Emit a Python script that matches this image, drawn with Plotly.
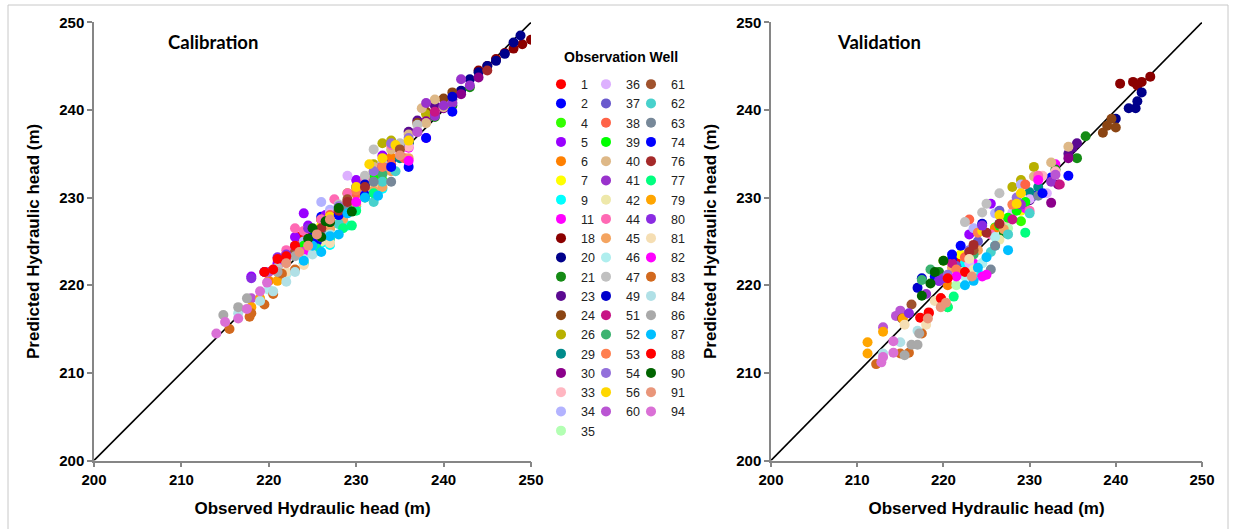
import plotly.graph_objects as go

W, H = 1233, 529

wells = [1, 2, 4, 5, 6, 7, 9, 11, 18, 20, 21, 23, 24, 26, 29, 30, 33, 34, 35,
         36, 37, 38, 39, 40, 41, 42, 44, 45, 46, 47, 49, 51, 52, 53, 54, 56, 60,
         61, 62, 63, 74, 76, 77, 79, 80, 81, 82, 83, 84, 86, 87, 88, 90, 91, 94]

colors = ["#FF0000", "#0000FF", "#33FF00", "#9900FF", "#FF8000", "#FFFF00", "#00FFFF",
          "#FF00FF", "#8B0000", "#00008B", "#158B15", "#5B0A91", "#8B4513", "#B8B000",
          "#008B8B", "#8B008B", "#FFB6C1", "#B3B3FF", "#B3FFB3",
          "#DDB0FF", "#6A5ACD", "#FF6347", "#00FF00", "#DEB887", "#9932CC", "#EEE8AA",
          "#FF69B4", "#F4A460", "#AFEEEE", "#C0C0C0", "#0000CD", "#C71585", "#3CB371",
          "#FF7F50", "#9370DB", "#FFD700", "#BA55D3",
          "#A0522D", "#48D1CC", "#778899", "#0000FF", "#A52A2A", "#00FF7F", "#FFA500",
          "#8A2BE2", "#F5DEB3", "#FF00FF", "#D2691E", "#B0E0E6", "#A9A9A9", "#00BFFF",
          "#FF0000", "#006400", "#E9967A", "#DA70D6"]

# Calibration: observed / predicted per well (same order as wells)
cal_obs = [
    [221, 222, 223, 224, 225, 226, 227, 223.5],
    [226, 228, 230, 232, 234, 236, 229],
    [227, 229, 231, 233],
    [218, 219.5, 221, 223, 224.5, 226.5, 230, 233, 224],
    [220, 224, 228, 231, 234],
    [222, 226, 229, 232, 235],
    [224, 226, 228, 230, 232, 229, 233, 227],
    [225, 229, 233, 236, 238],
    [244, 245, 246, 247, 248, 249, 250],
    [240, 242, 243, 244, 245, 246, 247, 248, 248.8],
    [236, 239, 241, 243],
    [236, 237, 239, 241],
    [237, 238, 240, 241],
    [226, 229, 232, 236, 238, 234, 233],
    [226, 229, 232, 235],
    [238, 240, 242, 244],
    [229, 231, 234, 236],
    [221, 224, 227, 231, 226],
    [222, 225, 228],
    [223, 227, 232, 235, 229],
    [231, 235, 239, 241],
    [227, 230, 232, 234, 235.5],
    [224, 228, 232],
    [232, 234, 236, 238, 240, 237.5, 239],
    [237, 239, 240, 241, 243, 238, 242],
    [226, 228, 232],
    [222, 224, 226, 229, 231, 233, 227.5, 234, 223],
    [227, 230, 232, 234, 228.5, 236, 233],
    [220, 222, 224, 226, 225.2],
    [221, 228, 231, 233, 235, 237, 232],
    [225, 228, 231, 241],
    [228, 233, 239],
    [225, 229, 233],
    [226, 230, 233],
    [228, 232, 236, 234],
    [227, 230, 233, 236, 231.5, 234.5],
    [218, 220, 222, 237],
    [223, 229, 235],
    [228, 231, 233, 234.5, 232],
    [226, 229, 232, 234],
    [228, 231, 234, 238, 241, 225.5, 236],
    [226, 227, 228, 229, 231, 245],
    [224, 225.5, 227, 228.5, 232, 230, 229.5],
    [218, 219, 221],
    [218, 219.5, 222, 223, 224.5, 221],
    [222, 224, 227],
    [224, 226, 230, 236],
    [215.5, 217.8, 218, 219.5, 220.5, 221.5, 223],
    [216.5, 219, 220.5, 222, 223, 224, 225, 227],
    [214.8, 216.5, 217.5, 221, 223],
    [224, 225, 227, 229, 231, 228, 232.5, 226],
    [219.5, 220.5, 221, 222, 223],
    [224.5, 226, 227, 228, 229.5, 226.5, 225],
    [222, 223.5, 224.5, 225.5, 227, 235],
    [214, 215, 216.5, 217.5, 219, 219.8],
]
cal_pred = [
    [222.2, 223.5, 224, 225.3, 226, 227.5, 228.2, 225.5],
    [227.8, 228.5, 231.2, 232.5, 234.3, 236.2, 228.8],
    [226.5, 228.4, 230, 232],
    [221, 221.5, 222.5, 225.5, 226.8, 228, 232, 234.8, 228.2],
    [220.5, 224.8, 228.2, 231, 234.6],
    [222.8, 226.8, 229.3, 233, 235.4],
    [223.5, 224.8, 227, 229, 230.5, 226.8, 231, 224.6],
    [225.2, 229.5, 232.8, 235.7, 236.8],
    [244.5, 245, 245.8, 246.5, 247, 247.5, 248],
    [240.4, 242.2, 243.5, 244.3, 245, 245.6, 246.4, 247.7, 248.5],
    [236.3, 239.2, 240.5, 242.6],
    [237.5, 238.8, 240.5, 241.2],
    [238.5, 239.8, 241.3, 242],
    [227.5, 230.5, 233.8, 236.5, 239.5, 236.5, 236.2],
    [226.2, 229, 231.8, 234.5],
    [238.7, 240.2, 241.8, 243.7],
    [229.2, 230.8, 233.5, 235.8],
    [222, 225, 228.6, 231.7, 229.5],
    [223.2, 226.4, 229],
    [223.6, 228.2, 232, 235.2, 232.5],
    [232, 236, 239.5, 240.8],
    [228, 230.4, 232.3, 233.8, 234.5],
    [224.5, 228.6, 232.2],
    [233.5, 235.5, 237.2, 238.5, 240.3, 240.2, 241.2],
    [237.5, 239.3, 240.5, 240.8, 242.8, 240.8, 243.5],
    [225, 227.2, 231.5],
    [224, 226.2, 227.5, 230.5, 232.2, 233.8, 229.8, 236, 226.5],
    [226.5, 229.2, 230.8, 233, 227.5, 234.5, 231.2],
    [219.5, 221.2, 223.5, 225.5, 223.8],
    [222, 229.2, 232.5, 234, 236.2, 238.3, 235.5],
    [225.5, 228.3, 231.5, 241.5],
    [228.5, 233.5, 239.8],
    [224.5, 228.8, 232.7],
    [226.5, 230.8, 233.5],
    [229, 233, 236.8, 236.2],
    [227.8, 231.2, 234.5, 236.5, 233.8, 236],
    [218.5, 221.5, 223, 237.5],
    [223.8, 229.8, 235.5],
    [227, 230, 231.8, 233, 229.5],
    [225.8, 228.5, 231.8, 231.8],
    [228, 230.3, 233.5, 236.8, 239.8, 225, 233.5],
    [226.5, 227.2, 228.5, 229.5, 231.2, 244.5],
    [222.5, 224.2, 225.3, 226.5, 230.5, 228.5, 226.8],
    [217.5, 218.5, 220.5],
    [220.8, 221.5, 223.5, 224.5, 226.5, 223.2],
    [221.5, 222.3, 224.8],
    [223.8, 225.5, 229.5, 234.2],
    [215, 216.4, 216.8, 217.8, 219, 221.3, 221.8],
    [216.8, 218.2, 219.3, 220.4, 221.5, 223, 223.5, 225.8],
    [216.6, 217.5, 218.5, 221.5, 223.3],
    [222.8, 224.5, 225.6, 228.2, 230, 225.8, 230.2, 223.8],
    [221.5, 221.8, 223, 223.3, 224.5],
    [225.3, 225.5, 227.2, 228.8, 228.4, 227.3, 226.5],
    [222.5, 223.8, 224.5, 225.8, 227.5, 234.8],
    [214.5, 215.8, 216.2, 217.3, 219.3, 220.3],
]

# Validation: observed / predicted per well
val_obs = [
    [217.3, 218.3, 219.7, 220.3, 222],
    [219, 221, 223.5, 230.5, 232.5],
    [220.5, 226, 229],
    [219.5, 223, 225.5],
    [220.5, 222.5, 226],
    [220, 222, 229],
    [222.5, 224, 226],
    [223.5, 229.5, 233],
    [240.5, 242, 242.5, 243, 244],
    [240, 241.5, 242.3, 242.5, 243],
    [219.5, 227, 233, 235.5, 236.5],
    [230, 234.5, 235, 235.5],
    [238.5, 239, 239.5, 240],
    [228, 229, 230.5],
    [226.5, 230, 231],
    [232.5, 234.5, 233.3],
    [227, 231.5, 233],
    [223.5, 226, 229],
    [221.5, 224.5, 227.5],
    [223, 228, 230, 232],
    [221.5, 224, 226.5],
    [222.5, 223, 229.5],
    [226.5, 227.5, 228.5, 229.5],
    [230.5, 232.5, 234.5],
    [218, 220, 229, 232.5],
    [222, 223.5, 226.5],
    [225.5, 230, 231],
    [221, 224, 227],
    [222.5, 224.5, 226],
    [224.5, 225, 226.5, 222.5],
    [217, 217.5, 224.5],
    [221, 228, 233.5],
    [217.5, 218.5, 223.5],
    [221.5, 224, 228],
    [220.5, 223, 228.5],
    [224.5, 226.5, 228.5, 229],
    [213, 214.5, 215, 233],
    [215.2, 216.3, 223.5],
    [225.5, 227.5, 230],
    [225.5, 226, 231],
    [221, 222, 231.5, 234.5],
    [223, 223.5, 225, 226.5],
    [220.5, 221.2, 229.5],
    [211.2, 211.2, 213, 215.3],
    [216, 219.5, 224.5],
    [215.5, 218, 219, 223],
    [221.5, 224.5, 225, 231],
    [212.2, 215, 216, 217.5],
    [213, 215, 217],
    [215.5, 216.3, 217, 217.2],
    [222.5, 223.5, 224, 225, 227.5],
    [218.3, 219.7, 220.5, 222.5],
    [217.5, 218.5, 219, 220],
    [218.2, 219.7, 220.3, 223.3],
    [212.8, 213, 214.2, 214.2],
]
val_pred = [
    [216.3, 216.9, 218.5, 220.8, 223],
    [221, 223, 224.2, 230.2, 232.3],
    [217.5, 226.6, 227.3],
    [220.5, 225.8, 229.3],
    [220, 222.8, 226.5],
    [222.8, 223.5, 228.5],
    [222.5, 221.5, 224.5],
    [222.5, 228.8, 233.8],
    [243, 243.2, 242.8, 243.2, 243.8],
    [239, 240.2, 240.2, 241, 242],
    [221.5, 226, 233.2, 234.5, 237],
    [229.7, 235, 235.7, 236.2],
    [237.4, 238.2, 239, 238],
    [231.2, 232, 233.5],
    [227, 230.6, 231.2],
    [229.4, 234.5, 231.5],
    [227.2, 232.5, 233],
    [226.5, 228.2, 231.5],
    [220, 222.5, 226.5],
    [222.5, 228.3, 229.8, 230.5],
    [222.2, 225, 228.5],
    [223.2, 227.5, 231.5],
    [226.8, 227.7, 228.5, 229.5],
    [232.4, 234, 235.8],
    [219, 220.8, 229.2, 231.8],
    [221.5, 221.8, 225.2],
    [225.8, 228.5, 232.5],
    [222, 224, 226.4],
    [221, 222.5, 225.5],
    [228.3, 229.3, 230.5, 227.2],
    [219.7, 220.8, 227],
    [222.5, 227.5, 231.5],
    [220.6, 221.8, 223.5],
    [221.8, 226, 229.2],
    [221.2, 224, 230],
    [226.2, 228, 229.3, 230.5],
    [215.2, 216.5, 217.1, 232.6],
    [216.2, 217.8, 224],
    [223.8, 225.8, 228.2],
    [221.8, 224.5, 230.2],
    [223.5, 224.5, 230.5, 232.5],
    [223.8, 224.6, 226, 227],
    [217.5, 218.7, 226],
    [213.5, 212.2, 214.7, 216.2],
    [216.8, 220.5, 226.8],
    [215.5, 215.5, 218.2, 223],
    [221, 221, 221.2, 232],
    [211, 212.2, 212.3, 214.5],
    [212.2, 213.5, 214.8],
    [212, 213.2, 213.2, 214.5],
    [220, 220.5, 222, 223.2, 224],
    [216.8, 218.5, 220.8, 221.5],
    [218.8, 220.2, 221.5, 222.8],
    [216.2, 217.5, 218, 221],
    [211.2, 211.8, 212.3, 213.6],
]

one_to_one = [200, 250]
tick_vals = [200, 210, 220, 230, 240, 250]

FONT = "Liberation Sans, Arial, sans-serif"
fig = go.Figure()

# 1:1 lines (drawn first, below points)
for xa, ya in (("x", "y"), ("x2", "y2")):
    fig.add_trace(go.Scatter(x=one_to_one, y=one_to_one, mode="lines",
                             line=dict(color="black", width=1.6), showlegend=False,
                             hoverinfo="skip", xaxis=xa, yaxis=ya))

MS = 10
for i, w in enumerate(wells):
    leg = "legend" if i < 19 else ("legend2" if i < 37 else "legend3")
    fig.add_trace(go.Scatter(x=cal_obs[i], y=cal_pred[i], mode="markers", name=str(w),
                             marker=dict(color=colors[i], size=MS, line=dict(width=0)),
                             legendgroup=str(w), legend=leg, xaxis="x", yaxis="y"))
for i, w in enumerate(wells):
    fig.add_trace(go.Scatter(x=val_obs[i], y=val_pred[i], mode="markers", name=str(w),
                             marker=dict(color=colors[i], size=MS, line=dict(width=0)),
                             legendgroup=str(w), showlegend=False, xaxis="x2", yaxis="y2"))

ydom = [(H - 460.5) / H, (H - 22.3) / H]
axis_common = dict(range=[200, 250], tickvals=tick_vals, showgrid=False, zeroline=False,
                   showline=True, linecolor="#868686", linewidth=1.5, ticks="outside",
                   ticklen=5, tickcolor="#868686", tickwidth=1.5, automargin=False,
                   tickfont=dict(family=FONT, size=15, color="black", weight="bold"))
xtitle = dict(text="Observed Hydraulic head (m)", standoff=15,
              font=dict(family=FONT, size=17, color="black", weight="bold"))
ytitle = dict(text="Predicted Hydraulic head (m)", standoff=15,
              font=dict(family=FONT, size=17, color="black", weight="bold"))

leg_common = dict(font=dict(family=FONT, size=12.5, color="#222222"),
                  bgcolor="rgba(0,0,0,0)", yanchor="top", xanchor="left",
                  itemclick=False, itemdoubleclick=False, tracegroupgap=0,
                  y=1 - 69.5 / H)

fig.update_layout(
    template="none",
    width=W, height=H, margin=dict(l=0, r=0, t=0, b=0, autoexpand=False),
    paper_bgcolor="white", plot_bgcolor="white",
    xaxis=dict(domain=[94 / W, 531 / W], anchor="y", title=xtitle, **axis_common),
    yaxis=dict(domain=ydom, anchor="x", title=ytitle, **axis_common),
    xaxis2=dict(domain=[771 / W, 1202 / W], anchor="y2", title=xtitle, **axis_common),
    yaxis2=dict(domain=ydom, anchor="x2", title=ytitle, **axis_common),
    legend=dict(x=541 / W, **leg_common),
    legend2=dict(x=586 / W, **leg_common),
    legend3=dict(x=631 / W, **leg_common),
    showlegend=True,
    annotations=[
        dict(text="Calibration", x=166 / W, y=1 - 42 / H, xref="paper", yref="paper",
             xanchor="left", yanchor="middle", showarrow=False,
             font=dict(family="Lato, Open Sans, sans-serif", size=18.5, color="black", weight="bold")),
        dict(text="Validation", x=835 / W, y=1 - 42 / H, xref="paper", yref="paper",
             xanchor="left", yanchor="middle", showarrow=False,
             font=dict(family="Lato, Open Sans, sans-serif", size=18.5, color="black", weight="bold")),
        dict(text="Observation Well", x=620.5 / W, y=1 - 56.5 / H, xref="paper", yref="paper",
             xanchor="center", yanchor="middle", showarrow=False,
             font=dict(family=FONT, size=14, color="black", weight="bold")),
    ],
    shapes=[dict(type="rect", xref="paper", yref="paper", x0=8 / W, x1=1228 / W,
                 y0=-0.01, y1=1 - 5 / H, line=dict(color="#C8C8C8", width=1))],
)

fig.write_html("out.html", config={"displayModeBar": False},
               post_script="document.body.style.margin='0';")
